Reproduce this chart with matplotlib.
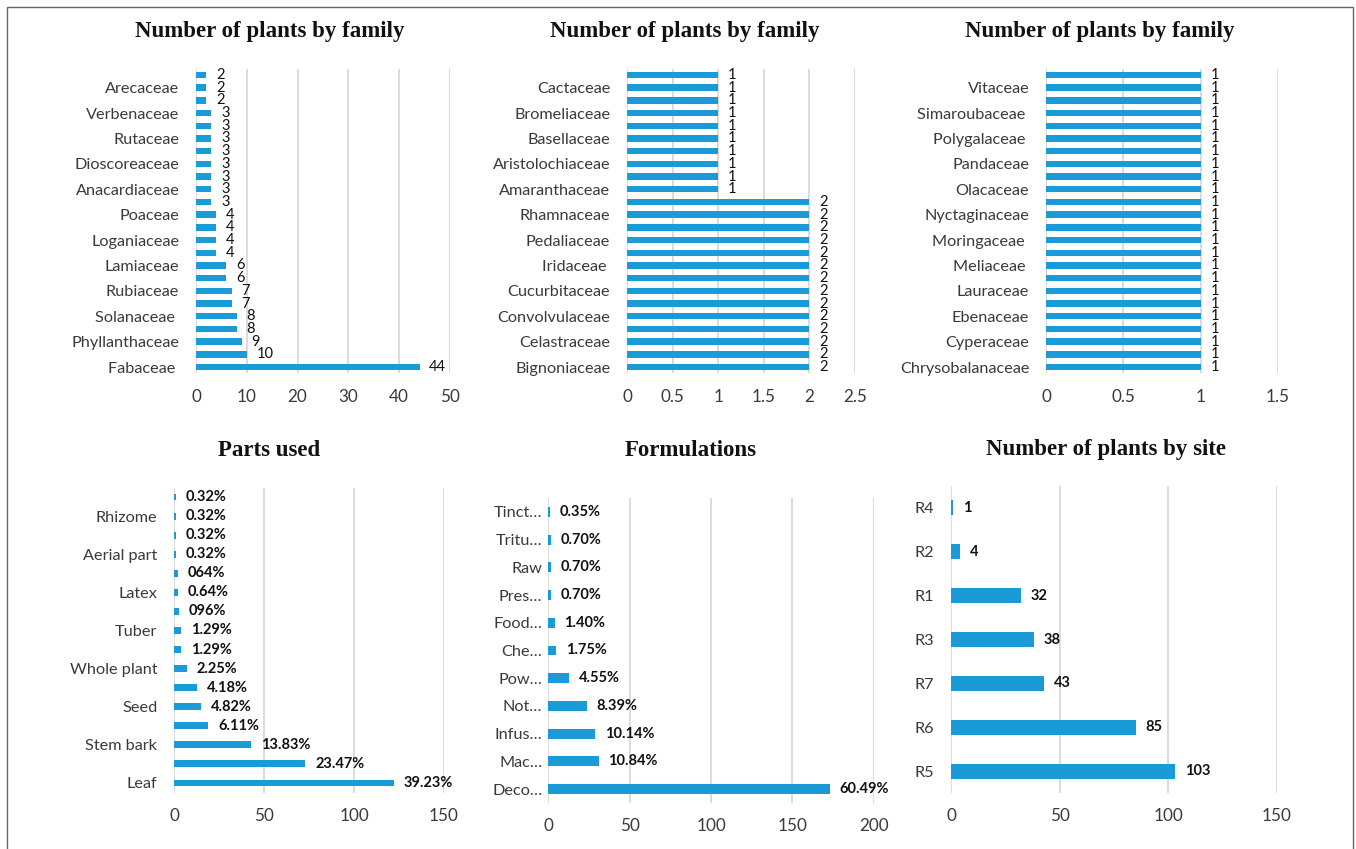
import numpy as np
import matplotlib
matplotlib.use("Agg")
import matplotlib.pyplot as plt
from matplotlib.patches import Rectangle
from matplotlib.ticker import FuncFormatter

# data (categories listed bottom -> top, blank = unlabelled category)
fam_a_labels = ["Fabaceae ", "", "Phyllanthaceae", "", "Solanaceae ", "", "Rubiaceae", "",
                "Lamiaceae", "", "Loganiaceae", "", "Poaceae", "", "Anacardiaceae", "",
                "Dioscoreaceae", "", "Rutaceae", "", "Verbenaceae", "", "Arecaceae", ""]
fam_a_values = [44, 10, 9, 8, 8, 7, 7, 6, 6, 4, 4, 4, 4, 3, 3, 3, 3, 3, 3, 3, 3, 2, 2, 2]

fam_b_labels = ["Bignoniaceae", "", "Celastraceae", "", "Convolvulaceae", "", "Cucurbitaceae", "",
                "Iridaceae ", "", "Pedaliaceae", "", "Rhamnaceae", "", "Amaranthaceae", "",
                "Aristolochiaceae", "", "Basellaceae", "", "Bromeliaceae", "", "Cactaceae", ""]
fam_b_values = [2, 2, 2, 2, 2, 2, 2, 2, 2, 2, 2, 2, 2, 2, 1, 1, 1, 1, 1, 1, 1, 1, 1, 1]

fam_c_labels = ["Chrysobalanaceae", "", "Cyperaceae", "", "Ebenaceae", "", "Lauraceae", "",
                "Meliaceae ", "", "Moringaceae ", "", "Nyctaginaceae", "", "Olacaceae", "",
                "Pandaceae", "", "Polygalaceae ", "", "Simaroubaceae ", "", "Vitaceae", ""]
fam_c_values = [1, 1, 1, 1, 1, 1, 1, 1, 1, 1, 1, 1, 1, 1, 1, 1, 1, 1, 1, 1, 1, 1, 1, 1]

parts_labels = ["Leaf", "", "Stem bark", "", "Seed", "", "Whole plant", "", "Tuber", "",
                "Latex", "", "Aerial part", "", "Rhizome", ""]
parts_values = [122, 73, 43, 19, 15, 13, 7, 4, 4, 3, 2, 2, 1, 1, 1, 1]
parts_pct = ["39.23%", "23.47%", "13.83%", "6.11%", "4.82%", "4.18%", "2.25%", "1.29%",
             "1.29%", "096%", "0.64%", "064%", "0.32%", "0.32%", "0.32%", "0.32%"]

form_labels = ["Deco…", "Mac…", "Infus…", "Not…", "Pow…", "Che…", "Food…", "Pres…",
               "Raw", "Tritu…", "Tinct…"]
form_values = [173, 31, 29, 24, 13, 5, 4, 2, 2, 2, 1]
form_pct = ["60.49%", "10.84%", "10.14%", "8.39%", "4.55%", "1.75%", "1.40%", "0.70%",
            "0.70%", "0.70%", "0.35%"]

site_labels = ["R5", "R6", "R7", "R3", "R1", "R2", "R4"]
site_values = [103, 85, 43, 38, 32, 4, 1]

BLUE = "#1a9ad6"
GRID = "#d9d9d9"
TXT = "#3a3a3a"
SANS = ["Lato", "DejaVu Sans"]

W, H = 1356, 849
fig = plt.figure(figsize=(W / 100, H / 100), dpi=100)
fig.patches.append(Rectangle((7 / W, -0.01), (1353 - 7) / W, 1 - 7 / H + 0.01,
                             transform=fig.transFigure, fill=False,
                             edgecolor="#666666", lw=1))


def px_axes(x0, x1, ytop, ybot):
    return fig.add_axes([x0 / W, 1 - ybot / H, (x1 - x0) / W, (ybot - ytop) / H])


def panel(ax, labels, values, xmax, step, bar_h, texts=None, bold=False):
    pos = np.arange(len(values))
    bars = ax.barh(pos, values, height=bar_h, color=BLUE)
    if texts is None:
        texts = [f"{v:g}" for v in values]
    ax.bar_label(bars, labels=texts, padding=7, fontsize=10.5, color="#111111",
                 family=SANS, fontweight="bold" if bold else "normal")
    ax.set_yticks(pos)
    ax.set_yticklabels(labels, family=SANS, fontsize=11.7, color=TXT)
    ax.set_ylim(-0.5, len(values) - 0.5)
    ax.set_xlim(0, xmax)
    ax.set_xticks(np.arange(0, xmax + step / 2, step))
    ax.xaxis.set_major_formatter(FuncFormatter(lambda v, p: f"{v:g}"))
    for lab in ax.get_xticklabels():
        lab.set_family(SANS)
        lab.set_fontsize(12.3)
        lab.set_color(TXT)
    ax.tick_params(length=0)
    ax.tick_params(axis="y", pad=12)
    ax.tick_params(axis="x", pad=11)
    ax.grid(axis="x", color=GRID, lw=1.3)
    ax.set_axisbelow(True)
    for s in ax.spines.values():
        s.set_visible(False)


ax1 = px_axes(196, 450, 68.6, 373.4)
panel(ax1, fam_a_labels, fam_a_values, 50, 10, 0.5)
ax2 = px_axes(627, 855, 68.6, 373.4)
panel(ax2, fam_b_labels, fam_b_values, 2.5, 0.5, 0.5)
ax3 = px_axes(1046, 1278, 68.6, 373.4)
panel(ax3, fam_c_labels, fam_c_values, 1.5, 0.5, 0.5)

ax4 = px_axes(174, 444, 487.5, 792.5)
panel(ax4, parts_labels, parts_values, 150, 50, 0.36, parts_pct, bold=True)
ax5 = px_axes(548, 874, 498, 803)
panel(ax5, form_labels, form_values, 200, 50, 0.36, form_pct, bold=True)
ax5.tick_params(axis="y", pad=4)
ax6 = px_axes(951, 1277, 486, 793)
panel(ax6, site_labels, site_values, 150, 50, 0.34, bold=True)

titles = [("Number of plants by family", 270, 32), ("Number of plants by family", 685, 32),
          ("Number of plants by family", 1100, 32), ("Parts used", 269, 450),
          ("Formulations", 691, 450), ("Number of plants by site", 1106, 450)]
for t, x, y in titles:
    fig.text(x / W, 1 - y / H, t, ha="center", va="center", family="Liberation Serif",
             fontweight="bold", fontsize=16.5, color="#111111")

fig.savefig("out.png", dpi=100)
